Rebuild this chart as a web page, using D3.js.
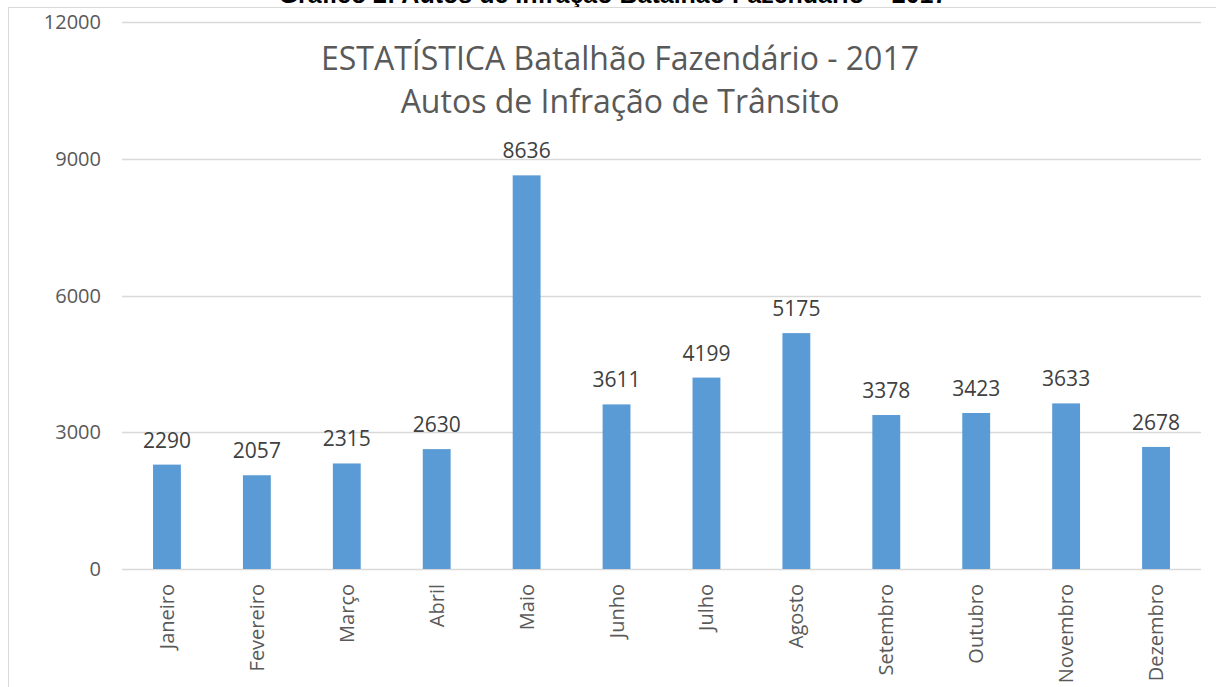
<!DOCTYPE html>
<html>
<head>
<meta charset="utf-8">
<script src="https://cdn.jsdelivr.net/npm/d3@7"></script>
<style>
  body { margin: 0; background: #fff; overflow: hidden; }
  svg { display: block; }
</style>
</head>
<body>
<svg id="chart" width="1216" height="687"></svg>
<script>
// chart data
const months = ["Janeiro", "Fevereiro", "Março", "Abril", "Maio", "Junho",
  "Julho", "Agosto", "Setembro", "Outubro", "Novembro", "Dezembro"];
const autos = [2290, 2057, 2315, 2630, 8636, 3611, 4199, 5175, 3378, 3423, 3633, 2678];
const yTicks = [0, 3000, 6000, 9000, 12000];
const titleLines = ["ESTATÍSTICA Batalhão Fazendário - 2017", "Autos de Infração de Trânsito"];
const caption = "Gráfico 2: Autos de Infração Batalhão Fazendário – 2017";

const svg = d3.select("#chart");
const font = "'Open Sans', Lato, sans-serif";

const plot = {left: 122, right: 1201, top: 22, bottom: 569};

// caption of the document, cut off at the top
svg.append("text")
  .attr("x", 613)
  .attr("y", 2.5)
  .attr("text-anchor", "middle")
  .style("font-family", "'Liberation Sans', Arial, sans-serif")
  .style("font-weight", "bold")
  .style("font-size", "25px")
  .style("fill", "#000")
  .text(caption);

// chart area border
svg.append("rect")
  .attr("x", 8.5)
  .attr("y", 7.5)
  .attr("width", 1240)
  .attr("height", 700)
  .style("fill", "none")
  .style("stroke", "#d9d9d9")
  .style("stroke-width", 1);

const x = d3.scaleBand()
  .domain(months)
  .range([plot.left, plot.right])
  .paddingInner(0.69)
  .paddingOuter(0.345);

const y = d3.scaleLinear()
  .domain([0, 12000])
  .range([plot.bottom, plot.top]);

// gridlines
svg.append("g")
  .selectAll("line")
  .data(yTicks)
  .enter()
  .append("line")
  .attr("x1", plot.left)
  .attr("x2", plot.right)
  .attr("y1", (d) => Math.round(y(d)) + 0.5)
  .attr("y2", (d) => Math.round(y(d)) + 0.5)
  .style("stroke", "#d9d9d9")
  .style("stroke-width", 1.5);

// y tick labels
svg.append("g")
  .selectAll("text")
  .data(yTicks)
  .enter()
  .append("text")
  .attr("x", 101)
  .attr("y", (d) => y(d))
  .attr("dy", "0.35em")
  .attr("text-anchor", "end")
  .style("font-family", font)
  .style("font-size", "20px")
  .style("fill", "#595959")
  .text((d) => d);

// bars
svg.append("g")
  .selectAll("rect")
  .data(autos)
  .enter()
  .append("rect")
  .attr("x", (d, i) => x(months[i]))
  .attr("y", (d) => y(d))
  .attr("width", x.bandwidth())
  .attr("height", (d) => y(0) - y(d))
  .style("fill", "#5b9bd5");

// value labels
svg.append("g")
  .selectAll("text")
  .data(autos)
  .enter()
  .append("text")
  .attr("x", (d, i) => x(months[i]) + x.bandwidth() / 2)
  .attr("y", (d) => y(d) - 17)
  .attr("text-anchor", "middle")
  .style("font-family", font)
  .style("font-size", "21px")
  .style("fill", "#404040")
  .text((d) => d);

// month labels, rotated
svg.append("g")
  .selectAll("text")
  .data(months)
  .enter()
  .append("text")
  .attr("transform", (d) => `translate(${x(d) + x.bandwidth() / 2 + 7}, 584) rotate(-90)`)
  .attr("text-anchor", "end")
  .style("font-family", font)
  .style("font-size", "20px")
  .style("fill", "#595959")
  .text((d) => d);

// title
svg.append("g")
  .selectAll("text")
  .data(titleLines)
  .enter()
  .append("text")
  .attr("x", 620)
  .attr("y", (d, i) => 70 + i * 43)
  .attr("text-anchor", "middle")
  .style("font-family", font)
  .style("font-size", "32px")
  .style("fill", "#595959")
  .text((d) => d);
</script>
</body>
</html>
